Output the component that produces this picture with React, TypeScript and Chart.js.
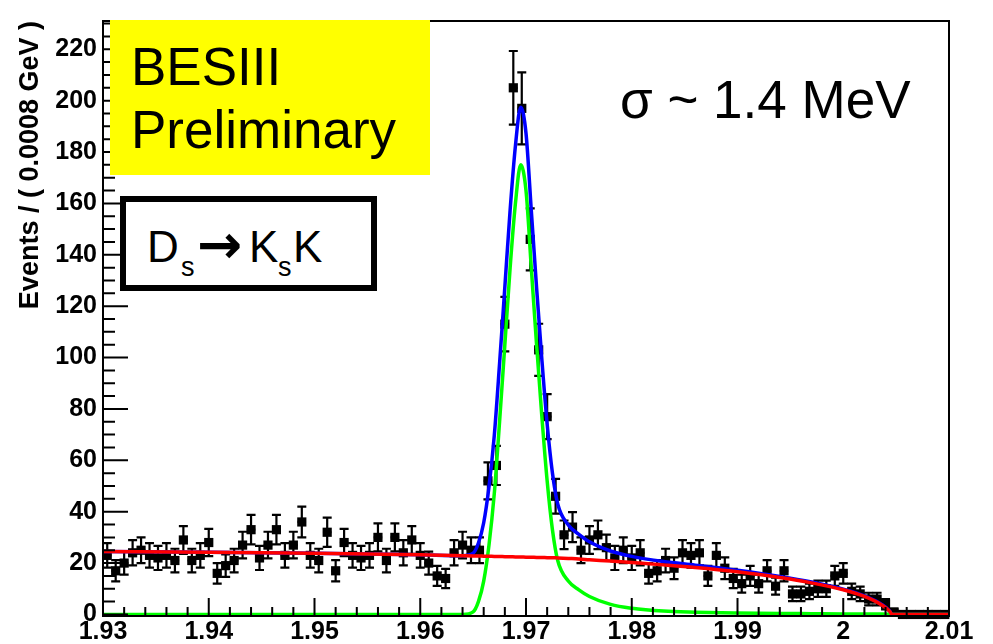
import React, { useEffect, useRef } from 'react';
import { Chart, registerables } from 'chart.js';

Chart.register(...registerables);

// ---- axis ranges / ticks ----
const X_MIN = 1.93;
const X_MAX = 2.01;
const BIN_WIDTH = 0.0008;
const Y_MIN = -0.6;
const Y_MAX = 231;
const X_MINOR_STEP = 0.002;
const Y_MINOR_STEP = 5;

const xTickValues = [1.93, 1.94, 1.95, 1.96, 1.97, 1.98, 1.99, 2.0, 2.01];
const xTickLabels = ['1.93', '1.94', '1.95', '1.96', '1.97', '1.98', '1.99', '2', '2.01'];
const yTickValues = [0, 20, 40, 60, 80, 100, 120, 140, 160, 180, 200, 220];
const yTickLabels = ['0', '20', '40', '60', '80', '100', '120', '140', '160', '180', '200', '220'];
const yAxisTitle = 'Events / ( 0.0008 GeV )';

// ---- data: events per 0.0008 GeV bin (100 bins, 1.93 - 2.01 GeV) ----
const eventCounts = [
  23, 17, 20, 24, 25, 23, 22, 23, 21, 29,
  21, 23, 28, 16, 19, 21, 27, 33, 22, 27,
  33, 23, 27, 36, 23, 21, 32, 17, 28, 23,
  22, 23, 30, 21, 30, 24, 29, 23, 20, 15,
  14, 24, 27, 25, 25, 52, 58, 113, 205, 197,
  146, 103, 77, 46, 31, 34, 25, 29, 31, 26,
  22, 25, 22, 24, 16, 17, 21, 18, 24, 23,
  24, 15, 23, 18, 14, 12, 15, 12, 17, 11,
  17, 8, 8, 9, 10, 10, 15, 16, 9, 8,
  6, 6, 4, 1, 0, 0, 0, 0, 0, 0,
];
const binCenters = eventCounts.map((_, i) => X_MIN + (i + 0.5) * BIN_WIDTH);

// ---- fit curves ----
const curveMass = [
  1.93, 1.94, 1.95, 1.96, 1.964, 1.965, 1.9655, 1.966, 1.9665, 1.967,
  1.9675, 1.968, 1.9685, 1.969, 1.9695, 1.97, 1.9705, 1.971, 1.9715, 1.972,
  1.9725, 1.973, 1.974, 1.975, 1.976, 1.978, 1.98, 1.983, 1.986, 1.99,
  1.994, 1.997, 2.0, 2.002, 2.0036, 2.0044, 2.0046, 2.01,
];
const backgroundCurve = [
  24.5, 24.2, 23.8, 23.2, 22.9, 22.8, 22.8, 22.7, 22.7, 22.6,
  22.6, 22.5, 22.5, 22.4, 22.4, 22.3, 22.3, 22.2, 22.2, 22.1,
  22.1, 22.0, 21.8, 21.6, 21.3, 20.8, 20.2, 19.3, 18.3, 16.6,
  14.4, 12.3, 9.6, 7.0, 3.8, 1.2, 0, 0,
];
const signalCurve = [
  0, 0, 0, 0, 0, 1, 5, 13, 27, 47,
  75, 105, 135, 160, 175, 165, 135, 105, 77, 52,
  33, 21, 13, 9.6, 7, 3.9, 2.4, 1.3, 0.9, 0.6,
  0.4, 0.3, 0.2, 0.2, 0.2, 0.1, 0, 0,
];
const totalCurve = [
  24.5, 24.2, 23.8, 23.2, 22.9, 23.8, 27.8, 35.7, 49.7, 69.6,
  97.6, 127.5, 157.5, 182.4, 197.4, 187.3, 157.3, 127.2, 99.2, 74.1,
  55.1, 43, 34.8, 31.2, 28.3, 24.7, 22.6, 20.6, 19.2, 17.2,
  14.8, 12.6, 9.8, 7.2, 4.0, 1.3, 0, 0,
];

const FONT = '"Liberation Sans", Arial, Helvetica, sans-serif';

const errorBarPlugin = {
  id: 'errorBars',
  afterDatasetDraw(chart: any, args: any) {
    if (args.index !== 0) return;
    const { ctx } = chart;
    const xs = chart.scales.x;
    const ys = chart.scales.y;
    ctx.save();
    ctx.strokeStyle = '#000';
    ctx.lineWidth = 2.2;
    eventCounts.forEach((c, i) => {
      const err = Math.sqrt(c);
      const px = xs.getPixelForValue(binCenters[i]);
      const py = ys.getPixelForValue(c);
      ctx.beginPath();
      if (err > 0) {
        const top = ys.getPixelForValue(c + err);
        const bot = ys.getPixelForValue(c - err);
        ctx.moveTo(px, top);
        ctx.lineTo(px, bot);
        ctx.moveTo(px - 4.5, top);
        ctx.lineTo(px + 4.5, top);
        ctx.moveTo(px - 4.5, bot);
        ctx.lineTo(px + 4.5, bot);
      }
      ctx.moveTo(xs.getPixelForValue(binCenters[i] - BIN_WIDTH / 2), py);
      ctx.lineTo(xs.getPixelForValue(binCenters[i] + BIN_WIDTH / 2), py);
      ctx.stroke();
    });
    ctx.restore();
  },
};

const framePlugin = {
  id: 'frameTicks',
  afterDatasetsDraw(chart: any) {
    const { ctx, chartArea: a } = chart;
    const xs = chart.scales.x;
    const ys = chart.scales.y;
    ctx.save();
    ctx.strokeStyle = '#000';
    ctx.lineWidth = 2;
    ctx.strokeRect(a.left, a.top, a.right - a.left, a.bottom - a.top);
    ctx.beginPath();
    const nx = Math.round((X_MAX - X_MIN) / X_MINOR_STEP);
    for (let k = 0; k <= nx; k++) {
      const px = xs.getPixelForValue(X_MIN + k * X_MINOR_STEP);
      const len = k % 5 === 0 ? 18 : 9;
      ctx.moveTo(px, a.bottom);
      ctx.lineTo(px, a.bottom - len);
    }
    for (let k = 0; k * Y_MINOR_STEP <= Y_MAX; k++) {
      const py = ys.getPixelForValue(k * Y_MINOR_STEP);
      const len = k % 4 === 0 ? 25 : 12;
      ctx.moveTo(a.left, py);
      ctx.lineTo(a.left + len, py);
    }
    ctx.stroke();
    ctx.restore();
  },
};

export default function App() {
  const canvasRef = useRef<HTMLCanvasElement | null>(null);

  useEffect(() => {
    const canvas = canvasRef.current;
    if (!canvas) return;
    const chart = new Chart(canvas, {
      type: 'line',
      data: {
        datasets: [
          {
            label: 'Data',
            data: eventCounts.map((c, i) => ({ x: binCenters[i], y: c })),
            showLine: false,
            pointStyle: 'rect',
            pointRadius: 6.5,
            pointBackgroundColor: '#000',
            pointBorderWidth: 0,
            order: 4,
            clip: false,
          } as any,
          {
            label: 'Total fit',
            data: curveMass.map((m, i) => ({ x: m, y: totalCurve[i] })),
            borderColor: '#0000ff',
            borderWidth: 3.5,
            pointRadius: 0,
            cubicInterpolationMode: 'monotone',
            order: 3,
            clip: false,
          } as any,
          {
            label: 'Signal',
            data: curveMass.map((m, i) => ({ x: m, y: signalCurve[i] })),
            borderColor: '#00ff00',
            borderWidth: 3.5,
            pointRadius: 0,
            cubicInterpolationMode: 'monotone',
            order: 2,
            clip: false,
          } as any,
          {
            label: 'Background',
            data: curveMass.map((m, i) => ({ x: m, y: backgroundCurve[i] })),
            borderColor: '#ff0000',
            borderWidth: 3.5,
            pointRadius: 0,
            cubicInterpolationMode: 'monotone',
            order: 1,
            clip: false,
          } as any,
        ],
      },
      options: {
        animation: false,
        responsive: false,
        devicePixelRatio: 1,
        layout: { padding: { left: 0, right: 44, top: 7, bottom: 0 } },
        plugins: { legend: { display: false }, tooltip: { enabled: false } },
        scales: {
          x: {
            type: 'linear',
            min: X_MIN,
            max: X_MAX,
            afterBuildTicks: (s: any) => {
              s.ticks = xTickValues.map((v) => ({ value: v }));
            },
            afterFit: (s: any) => {
              s.height = 28;
            },
            ticks: {
              autoSkip: false,
              maxRotation: 0,
              padding: 4,
              color: '#000',
              font: { family: FONT, size: 25, weight: 'bold', lineHeight: 1 },
              callback: (_v: any, i: number) => xTickLabels[i],
            },
            grid: { display: false, drawTicks: false },
            border: { display: false },
          },
          y: {
            type: 'linear',
            min: Y_MIN,
            max: Y_MAX,
            afterBuildTicks: (s: any) => {
              s.ticks = yTickValues.map((v) => ({ value: v }));
            },
            afterFit: (s: any) => {
              s.width = 103;
            },
            ticks: {
              autoSkip: false,
              padding: 6,
              color: '#000',
              font: { family: FONT, size: 25, weight: 'bold' },
              callback: (_v: any, i: number) => yTickLabels[i],
            },
            title: {
              display: true,
              text: yAxisTitle,
              align: 'end',
              color: '#000',
              font: { family: FONT, size: 27, weight: 'bold', lineHeight: 1.2 },
              padding: { top: 14, bottom: 0 },
            },
            grid: { display: false, drawTicks: false },
            border: { display: false },
          },
        },
      } as any,
      plugins: [errorBarPlugin, framePlugin],
    });
    return () => chart.destroy();
  }, []);

  const abs = (o: any) => ({ position: 'absolute' as const, whiteSpace: 'nowrap' as const, ...o });

  return (
    <div style={{ position: 'absolute', left: 0, top: 0, width: 993, height: 644, background: '#fff', overflow: 'hidden' }}>
      <canvas ref={canvasRef} width={993} height={644} style={{ position: 'absolute', left: 0, top: 0, width: 993, height: 644 }} />
      <div style={abs({ left: 110, top: 20, width: 320, height: 155, background: '#ffff00' })} />
      <div style={abs({ left: 131, top: 40, fontFamily: FONT, fontSize: 53, lineHeight: '53px', color: '#000' })}>BESIII</div>
      <div style={abs({ left: 131, top: 103, fontFamily: FONT, fontSize: 53, lineHeight: '53px', color: '#000' })}>Preliminary</div>
      <div style={abs({ left: 120, top: 196, width: 257, height: 95, border: '6px solid #000', boxSizing: 'border-box', background: '#fff' })} />
      <span style={abs({ left: 147, top: 225, fontFamily: FONT, fontSize: 44, lineHeight: '44px' })}>D</span>
      <span style={abs({ left: 181, top: 254, fontFamily: FONT, fontSize: 27, lineHeight: '27px' })}>s</span>
      <span style={abs({ left: 197, top: 218, fontFamily: '"DejaVu Sans", sans-serif', fontWeight: 'bold', fontSize: 54, lineHeight: '54px' })}>→</span>
      <span style={abs({ left: 249, top: 225, fontFamily: FONT, fontSize: 44, lineHeight: '44px' })}>K</span>
      <span style={abs({ left: 278, top: 254, fontFamily: FONT, fontSize: 27, lineHeight: '27px' })}>s</span>
      <span style={abs({ left: 293, top: 225, fontFamily: FONT, fontSize: 44, lineHeight: '44px' })}>K</span>
      <div style={abs({ left: 620, top: 73, fontFamily: FONT, fontSize: 53, lineHeight: '53px', color: '#000' })}>σ ~ 1.4 MeV</div>
    </div>
  );
}
